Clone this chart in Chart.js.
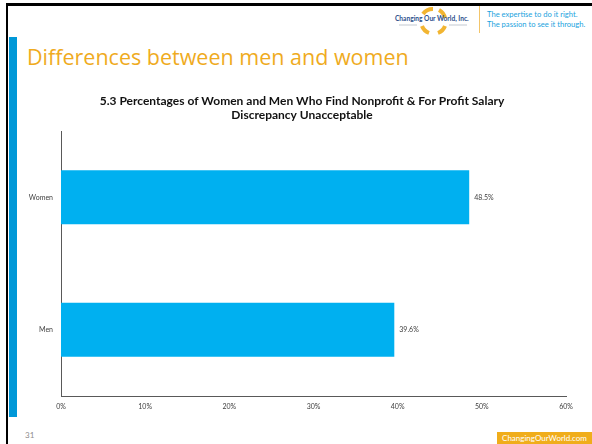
<!DOCTYPE html>
<html>
<head>
<meta charset="utf-8">
<script src="https://cdn.jsdelivr.net/npm/chart.js@4.4.1/dist/chart.umd.min.js"></script>
<style>
  html, body { margin: 0; padding: 0; background: #fff; }
  #slide { position: relative; width: 592px; height: 444px; overflow: hidden; background: #fff; font-family: Lato, "Open Sans", sans-serif; }
  .frame-top { position: absolute; left: 6px; top: 3px; width: 586px; height: 3px; background: #000; }
  .frame-left { position: absolute; left: 6px; top: 3px; width: 2px; height: 441px; background: #000; }
  .accent { position: absolute; left: 9px; top: 37px; width: 8px; height: 380px; background: #0098d8; }
  .heading { position: absolute; left: 27px; top: 42px; font-family: "Open Sans", sans-serif; font-size: 21.5px; color: #efab1e; white-space: nowrap; }
  .sep { position: absolute; left: 479px; top: 6px; width: 1px; height: 27px; background: #f3c56a; }
  .tagline { position: absolute; left: 487px; top: 9px; font-size: 7.6px; line-height: 10px; color: #1ba3de; white-space: nowrap; }
  .pagenum { position: absolute; left: 25px; top: 430px; font-size: 8px; color: #8c8c8c; }
  .footer { position: absolute; left: 497px; top: 432px; width: 95px; height: 12px; background: #f0ad1b; color: #fff; font-size: 8px; line-height: 12px; text-align: center; }
  #logo { position: absolute; left: 393px; top: 6px; }
  #wrap { position: absolute; left: 0; top: 0; width: 592px; height: 444px; }
</style>
</head>
<body>
<div id="slide">
  <div class="frame-top"></div>
  <div class="frame-left"></div>
  <div class="accent"></div>
  <svg id="logo" width="82" height="30" viewBox="0 0 82 30">
    <g fill="none" stroke="#f2b531" stroke-width="4">
      <path d="M30 8 A12 12 0 0 1 40 3"/>
      <path d="M46 4 A12 12 0 0 1 52 12"/>
      <path d="M52 20 A12 12 0 0 1 45 27"/>
      <path d="M36 27 A12 12 0 0 1 29 20"/>
    </g>
    <text x="2" y="15" font-family="Lato, sans-serif" font-size="6.6" font-weight="bold" fill="#2b4f8c">Changing Our World, Inc.</text>
    <line x1="6" y1="19" x2="24" y2="19" stroke="#9aa4b4" stroke-width="0.6"/>
    <line x1="56" y1="19" x2="74" y2="19" stroke="#9aa4b4" stroke-width="0.6"/>
  </svg>
  <div class="sep"></div>
  <div class="tagline">The expertise to do it right.<br>The passion to see it through.</div>
  <div class="heading">Differences between men and women</div>
  <div class="pagenum">31</div>
  <div class="footer">ChangingOurWorld.com</div>
  <div id="wrap"><canvas id="chart" width="592" height="444"></canvas></div>
</div>

<script>
var categories = ["Women", "Men"]
var shares = [48.5, 39.6]
var tickLabels = ["0%", "10%", "20%", "30%", "40%", "50%", "60%"]

// value labels just past the end of each bar
var barValues = {
    id: "barValues",
    afterDatasetsDraw: function (chart) {
        var ctx = chart.ctx
        var meta = chart.getDatasetMeta(0)
        ctx.save()
        ctx.font = "7px Lato"
        ctx.fillStyle = "#404040"
        ctx.textAlign = "left"
        ctx.textBaseline = "middle"
        meta.data.forEach(function (bar, i) {
            ctx.fillText(shares[i].toFixed(1) + "%", bar.x + 5, bar.y)
        })
        ctx.restore()
    }
}

var chart = new Chart(document.getElementById("chart"), {
    type: "bar",
    data: {
        labels: categories,
        datasets: [{
            data: shares,
            backgroundColor: "#00b0f0",
            borderWidth: 0,
            categoryPercentage: 0.408,
            barPercentage: 1
        }]
    },
    options: {
        indexAxis: "y",
        responsive: false,
        animation: false,
        layout: { padding: { left: 12, right: 0, top: 0, bottom: 28 } },
        plugins: {
            legend: { display: false },
            tooltip: { enabled: false },
            title: {
                display: true,
                text: ["5.3 Percentages of Women and Men Who Find Nonprofit & For Profit Salary", "Discrepancy Unacceptable"],
                color: "#111",
                font: { family: "Lato", size: 12, weight: "bold", lineHeight: 1.17 },
                padding: { top: 94, bottom: 9 }
            }
        },
        scales: {
            x: {
                min: 0,
                max: 60,
                ticks: {
                    stepSize: 10,
                    padding: 7,
                    color: "#404040",
                    font: { family: "Lato", size: 7 },
                    callback: function (v, i) { return tickLabels[i] }
                },
                grid: { display: false, drawTicks: false },
                border: { color: "#595959", width: 1 },
                afterFit: function (s) { s.height = 20 }
            },
            y: {
                ticks: {
                    padding: 8,
                    color: "#404040",
                    font: { family: "Lato", size: 7 }
                },
                grid: { display: false, drawTicks: false },
                border: { color: "#595959", width: 1 },
                afterFit: function (s) { s.width = 49 }
            },
            // empty right-hand margin so the plot ends at the 60% mark
            yGap: {
                type: "linear",
                axis: "y",
                position: "right",
                ticks: { display: false },
                grid: { display: false, drawTicks: false },
                border: { display: false },
                afterFit: function (s) { s.width = 26 }
            }
        }
    },
    plugins: [barValues]
})
</script>
</body>
</html>
